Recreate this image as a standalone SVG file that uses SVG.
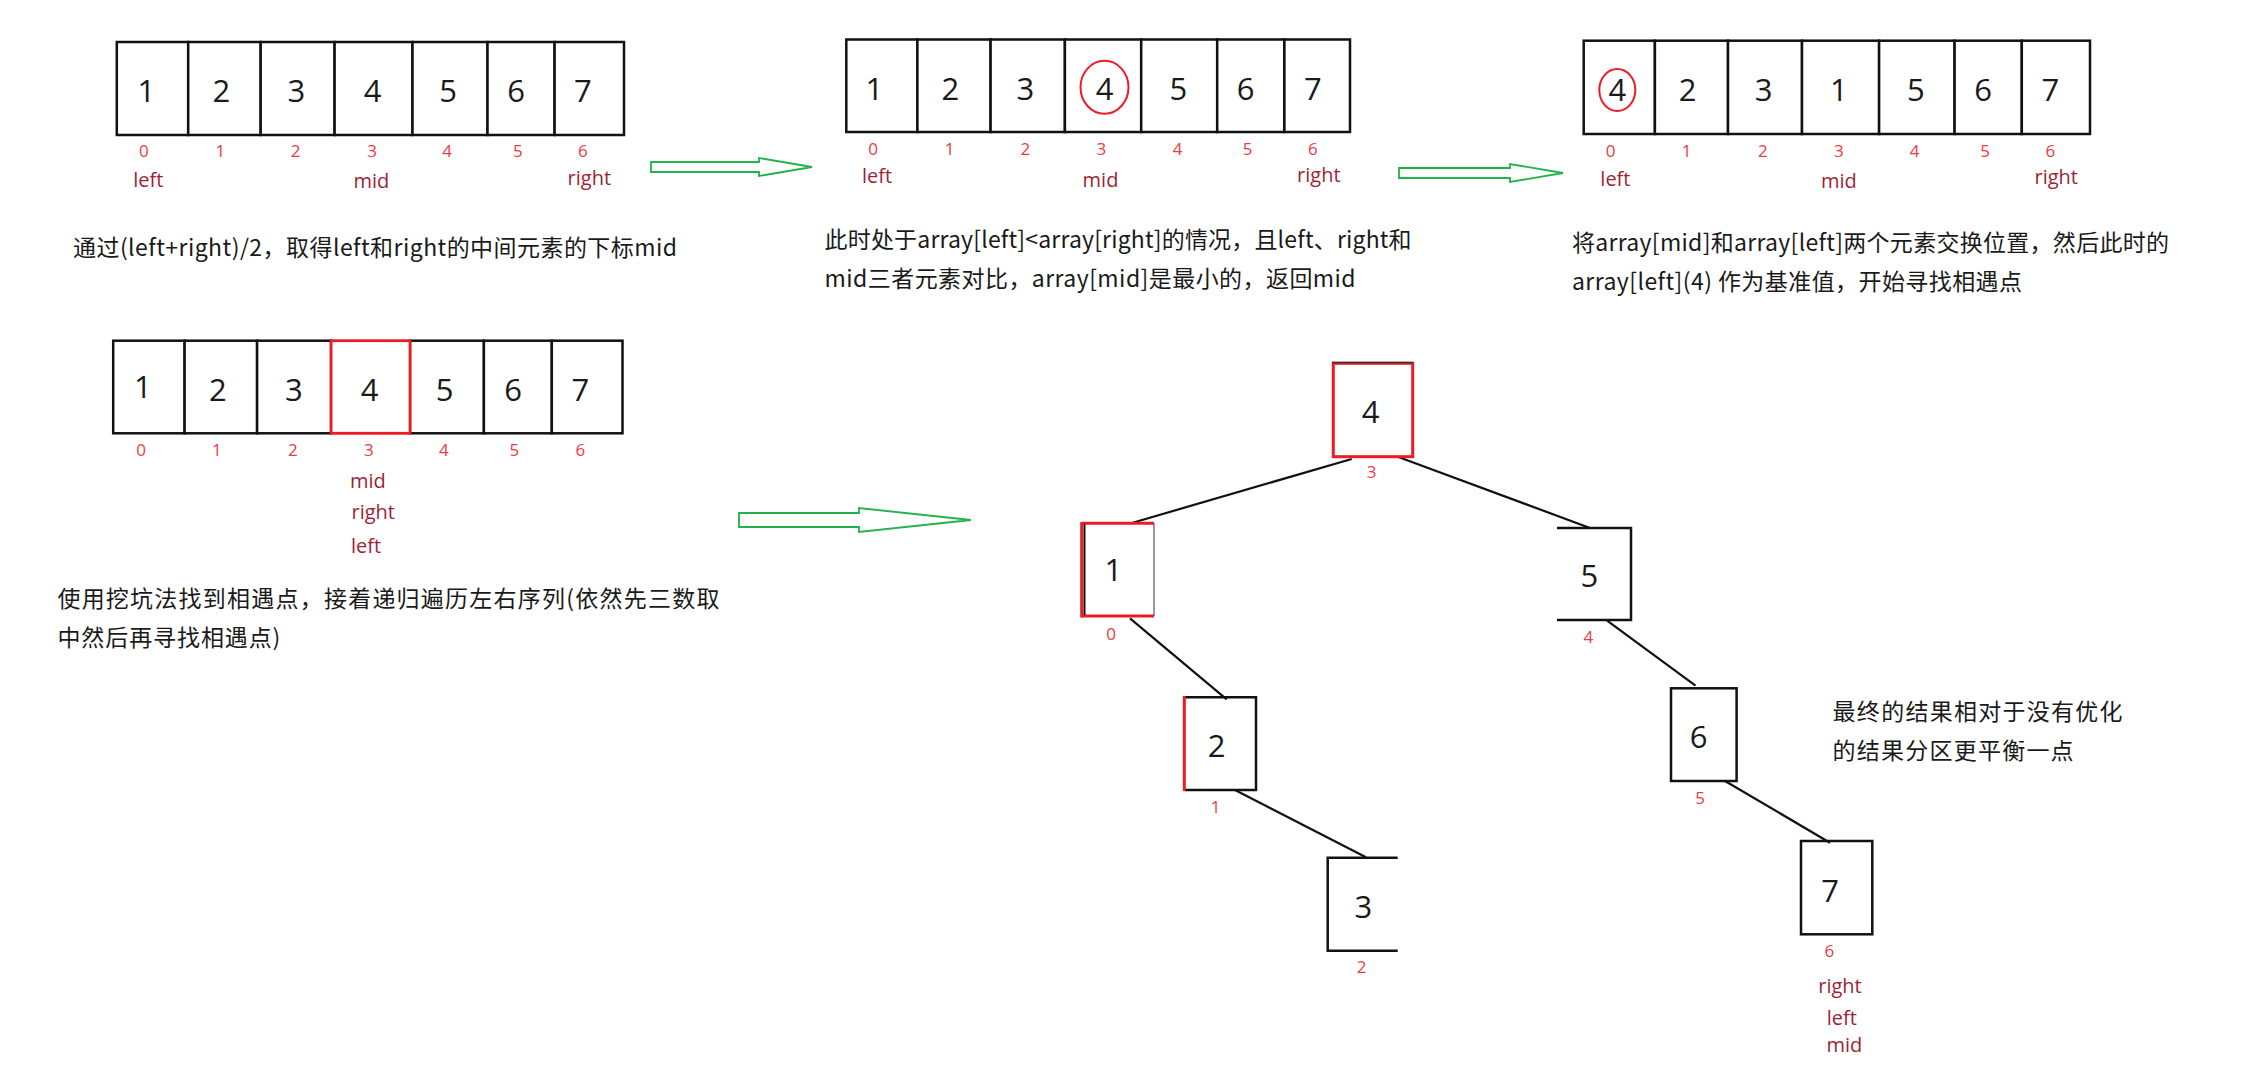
<svg xmlns="http://www.w3.org/2000/svg" width="2245" height="1068" viewBox="0 0 2245 1068">
<style>
.cell{fill:#fff;stroke:#111;stroke-width:2.5}
.dg{font-family:"Open Sans","Noto Sans",sans-serif;font-size:31px;fill:#1a1a1a;text-anchor:middle}
.ix{font-family:"Open Sans","Noto Sans",sans-serif;font-size:17px;fill:#ef3a44;text-anchor:middle}
.pt{font-family:"Open Sans","Noto Sans",sans-serif;font-size:20px;fill:#9e1f36;text-anchor:middle}
.tx{font-family:"Noto Sans CJK SC","Noto Sans",sans-serif;font-size:23px;fill:#1a1a1a}
.ed{stroke:#111;stroke-width:2.2;fill:none}
.ar{fill:none;stroke:#22b14c;stroke-width:1.8}
.bk{stroke:#111;stroke-width:2.5;fill:none}
.rd{stroke:#ec1c24;stroke-width:3;fill:none}
.gy{stroke:#777;stroke-width:1.5;fill:none}
</style>
<rect width="2245" height="1068" fill="#fff"/>

<g id="array1">
<rect class="cell" x="116.8" y="42" width="71.4" height="93"/>
<rect class="cell" x="188.2" y="42" width="72.5" height="93"/>
<rect class="cell" x="260.7" y="42" width="73.9" height="93"/>
<rect class="cell" x="334.6" y="42" width="77.9" height="93"/>
<rect class="cell" x="412.5" y="42" width="75" height="93"/>
<rect class="cell" x="487.5" y="42" width="67.1" height="93"/>
<rect class="cell" x="554.6" y="42" width="69.4" height="93"/>
<text class="dg" x="146.4" y="102">1</text><text class="dg" x="221.4" y="102">2</text><text class="dg" x="296.4" y="102">3</text><text class="dg" x="372.5" y="102">4</text><text class="dg" x="448.2" y="102">5</text><text class="dg" x="516" y="102">6</text><text class="dg" x="582.9" y="102">7</text>
<text class="ix" x="143.9" y="157">0</text><text class="ix" x="220.4" y="157">1</text><text class="ix" x="295.7" y="157">2</text><text class="ix" x="372" y="157">3</text><text class="ix" x="447" y="157">4</text><text class="ix" x="517.9" y="157">5</text><text class="ix" x="582.9" y="157">6</text>
<text class="pt" x="148.2" y="186.5">left</text><text class="pt" x="371.4" y="188">mid</text><text class="pt" x="589.3" y="185">right</text>
</g>

<g id="array2">
<rect class="cell" x="846.3" y="39.5" width="71.1" height="92.5"/>
<rect class="cell" x="917.4" y="39.5" width="73.2" height="92.5"/>
<rect class="cell" x="990.6" y="39.5" width="74.3" height="92.5"/>
<rect class="cell" x="1064.9" y="39.5" width="76.3" height="92.5"/>
<rect class="cell" x="1141.2" y="39.5" width="76" height="92.5"/>
<rect class="cell" x="1217.2" y="39.5" width="67.2" height="92.5"/>
<rect class="cell" x="1284.4" y="39.5" width="65.6" height="92.5"/>
<text class="dg" x="874.3" y="100">1</text><text class="dg" x="950.3" y="100">2</text><text class="dg" x="1025.4" y="100">3</text><text class="dg" x="1104.5" y="100">4</text><text class="dg" x="1178.4" y="100">5</text><text class="dg" x="1245.6" y="100">6</text><text class="dg" x="1312.9" y="100">7</text>
<ellipse cx="1104.5" cy="87.3" rx="24" ry="26.5" fill="none" stroke="#ec1c24" stroke-width="2"/>
<text class="ix" x="873.2" y="155">0</text><text class="ix" x="949.5" y="155">1</text><text class="ix" x="1025.4" y="155">2</text><text class="ix" x="1101.3" y="155">3</text><text class="ix" x="1177.6" y="155">4</text><text class="ix" x="1247.6" y="155">5</text><text class="ix" x="1312.9" y="155">6</text>
<text class="pt" x="877.1" y="183.3">left</text><text class="pt" x="1100.5" y="186.7">mid</text><text class="pt" x="1318.8" y="181.7">right</text>
</g>

<g id="array3">
<rect class="cell" x="1583.7" y="40.7" width="71.2" height="93.3"/>
<rect class="cell" x="1654.9" y="40.7" width="73.1" height="93.3"/>
<rect class="cell" x="1728" y="40.7" width="74" height="93.3"/>
<rect class="cell" x="1802" y="40.7" width="77.1" height="93.3"/>
<rect class="cell" x="1879.1" y="40.7" width="75.5" height="93.3"/>
<rect class="cell" x="1954.6" y="40.7" width="67.2" height="93.3"/>
<rect class="cell" x="2021.8" y="40.7" width="68.2" height="93.3"/>
<text class="dg" x="1617.3" y="101">4</text><text class="dg" x="1687.7" y="101">2</text><text class="dg" x="1763.6" y="101">3</text><text class="dg" x="1838.8" y="101">1</text><text class="dg" x="1915.9" y="101">5</text><text class="dg" x="1983.1" y="101">6</text><text class="dg" x="2050.3" y="101">7</text>
<ellipse cx="1617.3" cy="90" rx="18" ry="21" fill="none" stroke="#ec1c24" stroke-width="2"/>
<text class="ix" x="1610.6" y="156.7">0</text><text class="ix" x="1686.5" y="156.7">1</text><text class="ix" x="1762.8" y="156.7">2</text><text class="ix" x="1838.8" y="156.7">3</text><text class="ix" x="1914.7" y="156.7">4</text><text class="ix" x="1985.1" y="156.7">5</text><text class="ix" x="2050.3" y="156.7">6</text>
<text class="pt" x="1615.4" y="185.7">left</text><text class="pt" x="1838.8" y="188.3">mid</text><text class="pt" x="2056.2" y="184.3">right</text>
</g>

<g id="array4">
<rect class="cell" x="113.2" y="340.7" width="71.4" height="92.6"/>
<rect class="cell" x="184.6" y="340.7" width="72.5" height="92.6"/>
<rect class="cell" x="257.1" y="340.7" width="74" height="92.6"/>
<rect class="cell" x="410" y="340.7" width="73.9" height="92.6"/>
<rect class="cell" x="483.9" y="340.7" width="67.9" height="92.6"/>
<rect class="cell" x="551.8" y="340.7" width="70.7" height="92.6"/>
<rect x="331.1" y="340.7" width="78.9" height="92.6" fill="#fff" stroke="#ec1c24" stroke-width="2.8"/>
<text class="dg" x="142.9" y="397.5">1</text><text class="dg" x="217.9" y="401">2</text><text class="dg" x="293.9" y="401">3</text><text class="dg" x="369.6" y="401">4</text><text class="dg" x="444.6" y="401">5</text><text class="dg" x="513.2" y="401">6</text><text class="dg" x="580.4" y="401">7</text>
<text class="ix" x="141.1" y="456">0</text><text class="ix" x="216.8" y="456">1</text><text class="ix" x="292.9" y="456">2</text><text class="ix" x="368.9" y="456">3</text><text class="ix" x="443.9" y="456">4</text><text class="ix" x="514.3" y="456">5</text><text class="ix" x="580.4" y="456">6</text>
<text class="pt" x="367.9" y="488.3">mid</text><text class="pt" x="373.2" y="519">right</text><text class="pt" x="366" y="553.3">left</text>
</g>

<g id="text1"><text class="tx" x="73" y="256" textLength="604" lengthAdjust="spacing">通过(left+right)/2，取得left和right的中间元素的下标mid</text></g>
<g id="text2">
<text class="tx" x="824.6" y="248" textLength="587" lengthAdjust="spacing">此时处于array[left]&lt;array[right]的情况，且left、right和</text>
<text class="tx" x="824.6" y="287" textLength="531" lengthAdjust="spacing">mid三者元素对比，array[mid]是最小的，返回mid</text>
</g>
<g id="text3">
<text class="tx" x="1572" y="251" textLength="597" lengthAdjust="spacing">将array[mid]和array[left]两个元素交换位置，然后此时的</text>
<text class="tx" x="1572" y="290" textLength="450" lengthAdjust="spacing">array[left](4) 作为基准值，开始寻找相遇点</text>
</g>
<g id="text4">
<text class="tx" x="57.4" y="607" textLength="662" lengthAdjust="spacing">使用挖坑法找到相遇点，接着递归遍历左右序列(依然先三数取</text>
<text class="tx" x="57.4" y="646" textLength="223" lengthAdjust="spacing">中然后再寻找相遇点)</text>
</g>
<g id="text5">
<text class="tx" x="1832.6" y="720" textLength="290" lengthAdjust="spacing">最终的结果相对于没有优化</text>
<text class="tx" x="1832.6" y="759" textLength="241" lengthAdjust="spacing">的结果分区更平衡一点</text>
</g>

<g id="connectors">
<path class="ar" d="M651,162 L759,162 L759,158 L812,167 L759,176 L759,172 L651,172 Z"/>
<path class="ar" d="M1399,168 L1510,168 L1510,164 L1563,173 L1510,182 L1510,178 L1399,178 Z"/>
<path class="ar" d="M739,513 L859,513 L859,508 L971,520 L859,532 L859,527 L739,527 Z"/>
<line class="ed" x1="1351.7" y1="459" x2="1132.7" y2="522.7"/>
<line class="ed" x1="1395" y1="455.7" x2="1589.3" y2="527.7"/>
<line class="ed" x1="1130" y1="618.3" x2="1226.7" y2="699.3"/>
<line class="ed" x1="1235" y1="790" x2="1366" y2="857.3"/>
<line class="ed" x1="1607.1" y1="620.7" x2="1695.5" y2="685.7"/>
<line class="ed" x1="1725" y1="781" x2="1830" y2="842.7"/>
</g>

<g id="node4">
<rect x="1333.3" y="363.3" width="79.4" height="93.4" fill="#fff" stroke="#ec1c24" stroke-width="3"/>
<line x1="1332" y1="362.5" x2="1413" y2="362.5" stroke="#333" stroke-width="1.5"/>
<text class="dg" x="1370.7" y="422.7">4</text>
<text class="ix" x="1371.7" y="478.3">3</text>
</g>
<g id="node1">
<line class="gy" x1="1154" y1="523.3" x2="1154" y2="616"/>
<line class="rd" x1="1081.7" y1="523.3" x2="1154" y2="523.3"/>
<line class="rd" x1="1081.7" y1="616" x2="1154" y2="616"/>
<line class="rd" x1="1081.7" y1="522" x2="1081.7" y2="617.5"/>
<line x1="1084.5" y1="524" x2="1084.5" y2="615" stroke="#111" stroke-width="2"/>
<text class="dg" x="1113.3" y="580.7">1</text>
<text class="ix" x="1111" y="640">0</text>
</g>
<g id="node2">
<polyline class="bk" points="1184.3,697.3 1256,697.3 1256,790 1184.3,790"/>
<line class="rd" x1="1184.3" y1="696" x2="1184.3" y2="791"/>
<text class="dg" x="1216.7" y="757.3">2</text>
<text class="ix" x="1215.7" y="813.3">1</text>
</g>
<g id="node3">
<polyline class="bk" points="1397.7,857.7 1327.7,857.7 1327.7,950.7 1397.7,950.7"/>
<text class="dg" x="1363.3" y="917.7">3</text>
<text class="ix" x="1361.7" y="973.3">2</text>
</g>
<g id="node5">
<polyline class="bk" points="1557,528 1631,528 1631,620 1557,620"/>
<text class="dg" x="1589.3" y="587.3">5</text>
<text class="ix" x="1588.4" y="643.3">4</text>
</g>
<g id="node6">
<rect class="bk" x="1671" y="688.3" width="65.6" height="92.7"/>
<text class="dg" x="1698.7" y="748.3">6</text>
<text class="ix" x="1700" y="804">5</text>
</g>
<g id="node7">
<rect class="bk" x="1801" y="841" width="71.3" height="93.3"/>
<text class="dg" x="1830" y="901.7">7</text>
<text class="ix" x="1829.3" y="956.7">6</text>
<text class="pt" x="1840" y="993.3">right</text>
<text class="pt" x="1841.7" y="1025">left</text>
<text class="pt" x="1844.3" y="1051.7">mid</text>
</g>
</svg>
